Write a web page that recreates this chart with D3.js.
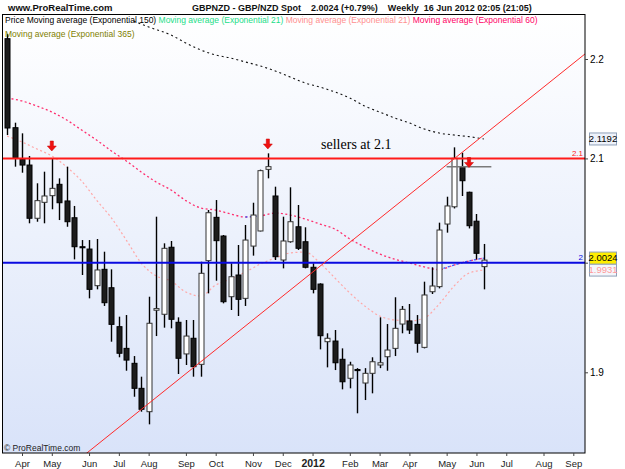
<!DOCTYPE html>
<html lang="en">
<head>
<meta charset="utf-8">
<title>GBPNZD Weekly</title>
<script src="https://d3js.org/d3.v7.min.js"></script>
<style>
  body { margin: 0; background: #fff; }
  svg { display: block; font-family: "Liberation Sans", Arial, sans-serif; }
</style>
</head>
<body>
<div id="chart"></div>
<script>
// weekly candles (week start, Monday)
let weekDates = ["2011-03-21","2011-03-28","2011-04-04","2011-04-11","2011-04-18","2011-04-25","2011-05-02","2011-05-09","2011-05-16","2011-05-23",
  "2011-05-30","2011-06-06","2011-06-13","2011-06-20","2011-06-27","2011-07-04","2011-07-11","2011-07-18","2011-07-25","2011-08-01",
  "2011-08-08","2011-08-15","2011-08-22","2011-08-29","2011-09-05","2011-09-12","2011-09-19","2011-09-26","2011-10-03","2011-10-10",
  "2011-10-17","2011-10-24","2011-10-31","2011-11-07","2011-11-14","2011-11-21","2011-11-28","2011-12-05","2011-12-12","2011-12-19",
  "2011-12-26","2012-01-02","2012-01-09","2012-01-16","2012-01-23","2012-01-30","2012-02-06","2012-02-13","2012-02-20","2012-02-27",
  "2012-03-05","2012-03-12","2012-03-19","2012-03-26","2012-04-02","2012-04-09","2012-04-16","2012-04-23","2012-04-30","2012-05-07",
  "2012-05-14","2012-05-21","2012-05-28","2012-06-04","2012-06-11"];
let opens = [2.2210,2.1304,2.0991,2.0935,2.0420,2.0573,2.0637,2.0747,2.0586,2.0425,
  2.0150,2.0128,1.9786,1.9938,1.9767,1.9410,1.9214,1.9080,1.8858,1.8653,
  1.9560,1.9523,2.0145,1.9450,1.9164,1.9305,1.9071,2.0019,2.0429,2.0251,
  1.9684,1.9885,1.9669,2.0156,2.0299,2.0893,2.0634,2.0025,2.0197,2.0339,
  2.0197,1.9957,1.9801,1.9274,1.9280,1.9116,1.8947,1.9025,1.8905,1.8991,
  1.9065,1.9139,1.9214,1.9434,1.9462,1.9431,1.9223,1.9730,1.9777,2.0365,
  2.0530,2.0919,2.0670,2.0392,1.9963];
let highs = [2.2260,2.1354,2.1248,2.1024,2.0757,2.0870,2.1001,2.0805,2.0919,2.0538,
  2.0213,2.0213,2.0223,2.0103,1.9938,1.9501,1.9516,1.9145,1.8961,1.9684,
  2.0435,2.0182,2.0204,1.9495,1.9471,1.9471,2.0009,2.0499,2.0595,2.0261,
  1.9994,2.0166,2.0356,2.0569,2.0890,2.1050,2.0724,2.0435,2.0718,2.0547,
  2.0334,1.9994,1.9808,1.9350,1.9380,1.9214,1.9094,1.9037,1.9037,1.9134,
  1.9495,1.9434,1.9679,1.9599,1.9617,1.9516,1.9823,1.9957,2.0378,2.0627,
  2.1109,2.1056,2.0676,2.0461,2.0176];
let lows = [2.1231,2.0919,2.0860,2.0372,2.0387,2.0372,2.0506,2.0403,2.0339,2.0031,
  1.9885,1.9669,1.9752,1.9599,1.9274,1.9134,1.9014,1.8784,1.8653,1.8543,
  1.9325,1.9401,1.9395,1.8985,1.9065,1.8961,1.8961,1.9715,1.9832,1.9623,
  1.9562,1.9507,1.9599,2.0066,2.0295,2.0805,2.0025,1.9947,2.0188,2.0119,
  1.9947,1.9715,1.9205,1.9044,1.9020,1.8849,1.8858,1.8639,1.8755,1.8814,
  1.9037,1.9014,1.9145,1.9350,1.9344,1.9175,1.9214,1.9709,1.9761,2.0283,
  2.0514,2.0634,2.0323,2.0031,1.9752];
let closes = [2.1301,2.1001,2.0935,2.0420,2.0589,2.0634,2.0708,2.0569,2.0387,2.0150,
  2.0140,1.9752,1.9932,1.9629,1.9431,1.9170,1.9109,1.8858,1.8674,1.9441,
  1.9575,2.0135,1.9477,1.9125,1.9325,1.9050,1.9901,2.0473,2.0207,1.9638,
  1.9869,1.9660,2.0213,2.0451,2.0880,2.0919,2.0056,2.0204,2.0387,2.0135,
  1.9957,1.9752,1.9328,1.9305,1.9085,1.8916,1.9065,1.9015,1.8991,1.9094,
  1.9085,1.9199,1.9395,1.9568,1.9380,1.9260,1.9700,1.9783,2.0308,2.0538,
  2.1001,2.0782,2.0349,2.0088,2.0024];

// moving averages
let maDates = ["2011-03-21","2011-04-04","2011-04-18","2011-05-02","2011-05-16","2011-05-30","2011-06-13","2011-06-27","2011-07-11","2011-07-25",
  "2011-08-08","2011-08-22","2011-09-05","2011-09-19","2011-10-03","2011-10-17","2011-10-31","2011-11-14","2011-11-28","2011-12-12",
  "2011-12-26","2012-01-09","2012-01-23","2012-02-06","2012-02-20","2012-03-05","2012-03-19","2012-04-02","2012-04-16","2012-04-30",
  "2012-05-14","2012-05-28","2012-06-11"];
let ema21 = [2.1221,2.1162,2.1093,2.1024,2.0916,2.0779,2.0595,2.0423,2.0213,1.9997,
  1.9876,1.9829,1.9727,1.9690,1.9792,1.9848,1.9913,1.9988,2.0044,2.0091,
  2.0100,1.9997,1.9857,1.9718,1.9599,1.9507,1.9471,1.9462,1.9489,1.9617,
  1.9783,1.9903,1.9931];
let ema60 = [2.1602,2.1572,2.1521,2.1461,2.1381,2.1281,2.1182,2.1073,2.0975,2.0867,
  2.0770,2.0692,2.0589,2.0518,2.0499,2.0461,2.0432,2.0442,2.0470,2.0451,
  2.0413,2.0365,2.0318,2.0223,2.0148,2.0081,2.0034,1.9997,1.9960,1.9935,
  1.9978,2.0016,2.0043];
let ema60BlueRanges = [["2011-10-31","2011-11-14"],["2012-04-30","2012-06-11"]];
let ema150Dates = ["2011-07-18","2011-08-01","2011-08-22","2011-09-05","2011-09-19","2011-10-03","2011-10-17","2011-10-31","2011-11-14","2011-11-28",
  "2011-12-12","2011-12-26","2012-01-09","2012-01-23","2012-02-06","2012-02-20","2012-03-05","2012-03-19","2012-04-02","2012-04-16",
  "2012-04-30","2012-05-14","2012-05-28","2012-06-11"];
let ema150 = [2.2395,2.2332,2.2248,2.2165,2.2093,2.2041,2.2010,2.1969,2.1928,2.1877,
  2.1815,2.1754,2.1713,2.1663,2.1602,2.1521,2.1461,2.1402,2.1351,2.1291,
  2.1251,2.1231,2.1215,2.1192];

// drawn annotations
let trendDates = ["2011-06-06","2012-09-10"];
let trendPrices = [1.8311, 2.2017];
let levelPrices = [2.1, 2.0];
let levelLabels = ["2.1", "2"];
let arrowDates = ["2011-05-02","2011-11-21","2012-05-28"];
let arrowTips = [2.1073, 2.1093, 2.0911];
let markDates = ["2012-05-07","2012-06-18"];
let markPrice = 2.0919;
let noteDate = "2012-01-10", notePrice = 2.109, noteText = "sellers at 2.1";

// axes
let monthTicks = ["2011-04-04","2011-05-02","2011-06-06","2011-07-04","2011-08-01","2011-09-05","2011-10-03","2011-11-07","2011-12-05",
  "2012-01-02","2012-02-06","2012-03-05","2012-04-02","2012-05-07","2012-06-04","2012-07-02","2012-08-06","2012-09-03"];
let priceTicks = [1.9, 2.0, 2.1, 2.2];
let boxValues = [2.1192, 1.9931, 2.0024];
let boxLabels = ["2.1192", "1.9931", "2.0024"];

let legendItems = ["Price Moving average (Exponential 150)", "Moving average (Exponential 21)", "Moving average (Exponential 21)", "Moving average (Exponential 60)"];
let legendColors = ["#000000", "#22dd88", "#ff9090", "#ff0066"];
let legend2 = "Moving average (Exponential 365)";

const W = 625, H = 469;
const plot = {left: 3, right: 585, top: 15, bottom: 453};
const parse = d3.utcParse("%Y-%m-%d");

const svg = d3.select("#chart").append("svg").attr("width", W).attr("height", H);
const defs = svg.append("defs");
const grad = defs.append("linearGradient").attr("id", "bg")
  .attr("x1", 0).attr("y1", 0).attr("x2", 0).attr("y2", 1);
grad.append("stop").attr("offset", "0%").attr("stop-color", "#ffffff");
grad.append("stop").attr("offset", "100%").attr("stop-color", "#d9e3f9");
defs.append("clipPath").attr("id", "clip").append("rect")
  .attr("x", plot.left).attr("y", plot.top)
  .attr("width", plot.right - plot.left).attr("height", plot.bottom - plot.top);

svg.append("rect").attr("width", W).attr("height", H).attr("fill", "#fff");
svg.append("rect").attr("x", plot.left).attr("y", plot.top)
  .attr("width", plot.right - plot.left).attr("height", plot.bottom - plot.top)
  .attr("fill", "url(#bg)");

let x = d3.scaleUtc().domain([parse("2011-04-04"), parse("2012-09-03")]).range([22, 573.3]);
let y = d3.scaleLog().domain([1.9, 2.2]).range([372.3, 59]);

const g = svg.append("g").attr("clip-path", "url(#clip)");

// moving averages
function series(dates, vals) { return dates.map((d, i) => ({date: parse(d), v: vals[i]})); }
let maLine = d3.line().x(d => x(d.date)).y(d => y(d.v)).curve(d3.curveMonotoneX);

g.append("path").datum(series(ema150Dates, ema150))
  .attr("fill", "none").attr("stroke", "#111").attr("stroke-width", 1.1)
  .attr("stroke-dasharray", "2,3").attr("d", maLine);
g.append("path").datum(series(maDates, ema21))
  .attr("fill", "none").attr("stroke", "#ffa8a8").attr("stroke-width", 1.2)
  .attr("stroke-dasharray", "2,2.5").attr("d", maLine);
let ema60Data = series(maDates, ema60);
g.append("path").datum(ema60Data)
  .attr("fill", "none").attr("stroke", "#ff2f6e").attr("stroke-width", 1.3)
  .attr("stroke-dasharray", "2,2.5").attr("d", maLine);
let blueRanges = ema60BlueRanges.map(r => [parse(r[0]), parse(r[1])]);
g.append("path").datum(ema60Data)
  .attr("fill", "none").attr("stroke", "#3a5cff").attr("stroke-width", 1.3)
  .attr("stroke-dasharray", "2,2.5")
  .attr("d", d3.line().x(d => x(d.date)).y(d => y(d.v)).curve(d3.curveMonotoneX)
    .defined(d => blueRanges.some(r => d.date >= r[0] && d.date <= r[1])));

// candles
let candles = weekDates.map((d, i) => ({date: parse(d), o: opens[i], h: highs[i], l: lows[i], c: closes[i]}));
const bodyW = 5;
let cg = g.append("g");
cg.selectAll("line.wick").data(candles).enter().append("line")
  .attr("class", "wick")
  .attr("x1", d => Math.round(x(d.date)) + 0.5).attr("x2", d => Math.round(x(d.date)) + 0.5)
  .attr("y1", d => y(d.h)).attr("y2", d => y(d.l))
  .attr("stroke", "#000").attr("stroke-width", 1.4);
cg.selectAll("rect.body").data(candles).enter().append("rect")
  .attr("class", "body")
  .attr("x", d => Math.round(x(d.date)) + 0.5 - bodyW / 2)
  .attr("y", d => y(Math.max(d.o, d.c)))
  .attr("width", bodyW)
  .attr("height", d => Math.max(1, Math.abs(y(d.o) - y(d.c))))
  .attr("fill", d => d.c >= d.o ? "#ffffff" : "#1c1c1c")
  .attr("stroke", d => d.c >= d.o ? "#333" : "#000")
  .attr("stroke-width", 1);

// horizontal levels
let levelColors = ["#ff1a1a", "#0a0ae0"];
levelPrices.forEach((p, i) => {
  g.append("line").attr("x1", plot.left).attr("x2", plot.right)
    .attr("y1", y(p)).attr("y2", y(p))
    .attr("stroke", levelColors[i]).attr("stroke-width", 2);
  svg.append("text").attr("x", plot.right - 2).attr("y", y(p) - 2.5)
    .attr("text-anchor", "end").attr("font-size", 8).attr("fill", levelColors[i])
    .text(levelLabels[i]);
});

// trend line, extended across the plot
let tx = trendDates.map(d => x(parse(d))), ty = trendPrices.map(p => y(p));
let slope = (ty[1] - ty[0]) / (tx[1] - tx[0]);
g.append("line")
  .attr("x1", plot.left).attr("y1", ty[0] + slope * (plot.left - tx[0]))
  .attr("x2", plot.right).attr("y2", ty[0] + slope * (plot.right - tx[0]))
  .attr("stroke", "#ff2a2a").attr("stroke-width", 1);

// grey mark
g.append("line")
  .attr("x1", x(parse(markDates[0]))).attr("x2", x(parse(markDates[1])))
  .attr("y1", y(markPrice)).attr("y2", y(markPrice))
  .attr("stroke", "#7a7a7a").attr("stroke-width", 1.5);

// red arrows
g.selectAll("path.arrow").data(arrowDates).enter().append("path")
  .attr("class", "arrow")
  .attr("transform", (d, i) => `translate(${x(parse(d))},${y(arrowTips[i])})`)
  .attr("d", "M0,0 L-4.5,-5 L-1.6,-5 L-1.6,-10 L1.6,-10 L1.6,-5 L4.5,-5 Z")
  .attr("fill", "#ee1111").attr("stroke", "#cc0000").attr("stroke-width", 0.5);

svg.append("text").attr("x", x(parse(noteDate))).attr("y", y(notePrice))
  .attr("font-family", "'Liberation Serif', 'Times New Roman', serif")
  .attr("font-size", 14).attr("fill", "#000").text(noteText);

// plot border
svg.append("rect").attr("x", plot.left - 0.5).attr("y", plot.top - 0.5)
  .attr("width", plot.right - plot.left + 0.5).attr("height", plot.bottom - plot.top + 0.5)
  .attr("fill", "none").attr("stroke", "#000").attr("stroke-width", 1);

// bottom axis
let xAxis = svg.append("g").attr("transform", `translate(0,${plot.bottom})`)
  .call(d3.axisBottom(x).tickValues(monthTicks.map(parse)).tickSize(3).tickPadding(4)
    .tickFormat(d => d.getUTCMonth() === 0 ? d3.utcFormat("%Y")(d) : d3.utcFormat("%b")(d)));
xAxis.select(".domain").remove();
xAxis.attr("font-family", null).attr("font-size", null);
xAxis.selectAll(".tick line").attr("stroke", "#444");
xAxis.selectAll(".tick text").attr("fill", "#222")
  .attr("font-size", d => d.getUTCMonth() === 0 ? 10.5 : 9.5)
  .attr("font-weight", d => d.getUTCMonth() === 0 ? "bold" : "normal");

// right axis
let yAxis = svg.append("g").attr("transform", `translate(${plot.right},0)`)
  .call(d3.axisRight(y).tickValues(priceTicks).tickSize(3).tickPadding(2).tickFormat(d3.format(".1f")));
yAxis.select(".domain").remove();
yAxis.attr("font-family", null).attr("font-size", null);
yAxis.selectAll(".tick line").attr("stroke", "#444");
yAxis.selectAll(".tick text").attr("fill", "#000").attr("font-size", 10);

// price boxes, stacked so they do not overlap
let boxFill = ["#eef2fa", "#f4f6fc", "#ffee00"];
let boxText = ["#000", "#ff9999", "#000"];
const boxH = 12;
let placed = [];
boxValues.forEach((v, i) => {
  let cy = y(v);
  placed.forEach(p => {
    if (Math.abs(p - cy) < boxH) cy = cy < p ? p - boxH : p + boxH;
  });
  placed.push(cy);
  svg.append("rect").attr("x", 589.5).attr("y", cy - boxH / 2).attr("width", 27).attr("height", boxH)
    .attr("fill", boxFill[i]).attr("stroke", "#8fa0b8").attr("stroke-width", 1);
  svg.append("text").attr("x", 603).attr("y", cy + 3.3).attr("text-anchor", "middle")
    .attr("font-size", 9.5).attr("fill", boxText[i]).text(boxLabels[i]);
});
// tick labels hidden under a price box, as on the original
yAxis.selectAll(".tick text").filter(d => placed.some(p => Math.abs(y(d) - p) < boxH)).remove();

// header
svg.append("text").attr("x", 8).attr("y", 11).attr("font-size", 9.5).attr("font-weight", "bold")
  .attr("fill", "#111").text("www.ProRealTime.com");
svg.append("text").attr("x", 192).attr("y", 11).attr("font-size", 9).attr("font-weight", "bold")
  .attr("fill", "#111").style("white-space", "pre")
  .text("GBPNZD - GBP/NZD Spot    2.0024 (+0.79%)    Weekly  16 Jun 2012 02:05 (21:05)");

// legend
let leg = svg.append("text").attr("x", 5).attr("y", 23).attr("font-size", 8.5).style("white-space", "pre");
legendItems.forEach((t, i) => {
  leg.append("tspan").attr("fill", legendColors[i]).text((i ? " " : "") + t);
});
svg.append("text").attr("x", 5).attr("y", 37).attr("font-size", 8.5).attr("fill", "#808000").text(legend2);

svg.append("text").attr("x", 4).attr("y", 451).attr("font-size", 8.5).attr("fill", "#222")
  .text("\u00a9 ProRealTime.com");
</script>
</body>
</html>
